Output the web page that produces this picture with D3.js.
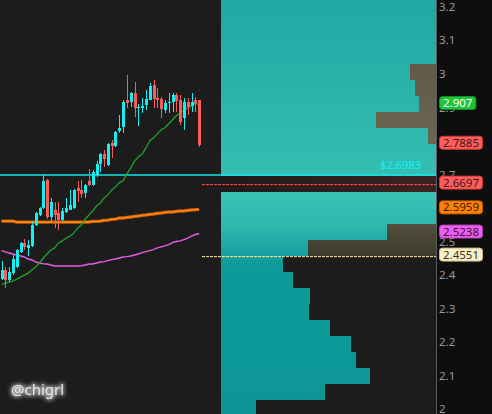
<!DOCTYPE html>
<meta charset="utf-8">
<script src="https://cdn.jsdelivr.net/npm/d3@7"></script>
<style>
  body { margin: 0; background: #1c1c1c; }
  svg { display: block; }
</style>
<div id="chart"></div>
<script>

// candles, oldest first
var candleOpen  = [2.388,2.415,2.385,2.406,2.424,2.469,2.496,2.481,2.487,2.549,
                   2.579,2.600,2.684,2.573,2.594,2.585,2.564,2.588,2.594,2.600,
                   2.660,2.654,2.645,2.681,2.669,2.698,2.731,2.761,2.728,2.794,
                   2.785,2.830,2.842,2.922,2.916,2.943,2.899,2.899,2.907,2.922,
                   2.967,2.928,2.925,2.893,2.913,2.916,2.937,2.922,2.869,2.916,
                   2.905,2.922,2.922];
var candleHigh  = [2.442,2.424,2.424,2.460,2.478,2.499,2.507,2.504,2.558,2.588,
                   2.603,2.698,2.687,2.630,2.618,2.618,2.600,2.630,2.654,2.657,
                   2.681,2.684,2.672,2.716,2.713,2.740,2.764,2.773,2.794,2.803,
                   2.830,2.878,2.922,2.997,2.946,2.976,2.910,2.928,2.952,2.973,
                   2.982,2.958,2.931,2.922,2.943,2.943,2.943,2.937,2.928,2.928,
                   2.943,2.931,2.922];
var candleLow   = [2.385,2.361,2.379,2.400,2.421,2.466,2.475,2.457,2.484,2.546,
                   2.576,2.597,2.567,2.558,2.540,2.534,2.561,2.585,2.594,2.597,
                   2.618,2.630,2.630,2.666,2.666,2.693,2.707,2.722,2.725,2.749,
                   2.782,2.824,2.824,2.899,2.902,2.872,2.845,2.884,2.893,2.922,
                   2.899,2.899,2.869,2.884,2.884,2.887,2.887,2.848,2.833,2.878,
                   2.887,2.887,2.782];
var candleClose = [2.415,2.385,2.409,2.448,2.475,2.496,2.484,2.490,2.549,2.585,
                   2.600,2.681,2.573,2.618,2.579,2.564,2.591,2.600,2.609,2.654,
                   2.651,2.642,2.669,2.669,2.707,2.731,2.761,2.746,2.791,2.785,
                   2.827,2.839,2.916,2.913,2.943,2.899,2.900,2.905,2.925,2.964,
                   2.925,2.922,2.896,2.913,2.916,2.937,2.920,2.857,2.916,2.902,
                   2.916,2.913,2.788];

// moving averages, one value per candle
var maGreen   = [2.372,2.376,2.379,2.382,2.388,2.394,2.400,2.406,2.415,2.424,
                 2.436,2.451,2.463,2.475,2.481,2.496,2.502,2.510,2.516,2.525,
                 2.540,2.549,2.567,2.579,2.591,2.606,2.615,2.630,2.639,2.654,
                 2.663,2.675,2.681,2.702,2.719,2.740,2.752,2.761,2.779,2.800,
                 2.809,2.821,2.833,2.839,2.851,2.863,2.875,2.884,2.890,2.899,
                 2.905,2.913,2.907];
var maOrange  = [2.561,2.561,2.561,2.561,2.558,2.558,2.558,2.558,2.558,2.558,
                 2.558,2.558,2.558,2.558,2.558,2.558,2.558,2.558,2.558,2.558,
                 2.558,2.558,2.558,2.558,2.560,2.560,2.561,2.563,2.564,2.566,
                 2.567,2.570,2.570,2.572,2.573,2.575,2.576,2.578,2.579,2.581,
                 2.582,2.584,2.585,2.587,2.588,2.588,2.590,2.591,2.591,2.593,
                 2.594,2.595,2.596];
var maMagenta = [2.473,2.469,2.466,2.463,2.460,2.457,2.454,2.448,2.445,2.439,
                 2.436,2.434,2.433,2.430,2.427,2.427,2.427,2.427,2.427,2.427,
                 2.427,2.428,2.430,2.433,2.433,2.436,2.439,2.440,2.443,2.446,
                 2.448,2.451,2.454,2.455,2.457,2.460,2.463,2.467,2.470,2.473,
                 2.476,2.481,2.484,2.487,2.491,2.497,2.500,2.502,2.506,2.510,
                 2.516,2.521,2.524];

// volume profile: lower edge of each price bin, volume drawn from left and from right
var binSize = 0.0477;
var binLow  = [3.1723,3.1246,3.0769,3.0292,2.9815,2.9338,2.8862,2.8385,2.7908,2.7431,
               2.6954,2.6477,2.6000,2.5523,2.5046,2.4569,2.4092,2.3615,2.3138,2.2662,
               2.2185,2.1708,2.1231,2.0754,2.0277,1.9800];
var volLeft  = [100,100,100,100,100,100,100,100,100,100,
                100,0,100,100,100,100,28.8,33.5,41.4,40.9,
                50.7,60.5,62.8,69.3,48.4,16.3];
var volRight = [0,0,0,0,12.1,9.8,7.9,27.9,3.7,0,
                0,0,0,0,22.8,59.5,0,0,0,0,
                0,0,0,0,0,0];

var yTicks = [2, 2.1, 2.2, 2.3, 2.4, 2.5, 2.6, 2.7, 2.8, 2.9, 3, 3.1, 3.2];

var lastLine = 2.6983;
var redLine = 2.6697;
var creamLine = 2.4551;
var tagValues = [2.907, 2.7885, 2.6697, 2.5959, 2.5238, 2.4551];
var tagLabels = ["2.907", "2.7885", "2.6697", "2.5959", "2.5238", "2.4551"];

// styles
var tagFill   = ["#1fc43a", "#ff5c5c", "#ff5c5c", "#ff7f00", "#ee5cee", "#f8efc6"];
var tagStroke = ["#0f8f22", "#c83a3a", "#c83a3a", "#c25e00", "#b040b0", "#c8b98a"];
var tagText   = ["#ffffff", "#3a1515", "#3a1515", "#3a2000", "#3a103a", "#333322"];

var W = 492, H = 414, axisX = 436, profX = 221;

var svg = d3.select("#chart").append("svg")
  .attr("width", W).attr("height", H)
  .style("font-family", "'Noto Sans', sans-serif");

var defs = svg.append("defs");

var tealGrad = defs.append("linearGradient").attr("id", "teal")
  .attr("gradientUnits", "userSpaceOnUse").attr("x1", 0).attr("y1", 0).attr("x2", 0).attr("y2", H);
[[0, "#1fa9a4"], [0.4, "#34bcb1"], [0.47, "#3ac2b6"], [0.55, "#2eb7ae"], [0.6, "#1aa5a2"], [0.64, "#0e9a9a"], [1, "#0c9696"]]
  .forEach(function(s) { tealGrad.append("stop").attr("offset", s[0]).attr("stop-color", s[1]); });

var brownGrad = defs.append("linearGradient").attr("id", "brown")
  .attr("gradientUnits", "userSpaceOnUse").attr("x1", 0).attr("y1", 60).attr("x2", 0).attr("y2", 260);
[[0, "#605946"], [0.4, "#6c6651"], [0.8, "#57523f"], [1, "#3a372d"]]
  .forEach(function(s) { brownGrad.append("stop").attr("offset", s[0]).attr("stop-color", s[1]); });

var gapGrad = defs.append("linearGradient").attr("id", "gap")
  .attr("x1", 0).attr("y1", 0).attr("x2", 1).attr("y2", 0);
gapGrad.append("stop").attr("offset", 0).attr("stop-color", "#1e1b1b");
gapGrad.append("stop").attr("offset", 1).attr("stop-color", "#3c2323");

var glow = defs.append("filter").attr("id", "glow").attr("x", "-20%").attr("y", "-50%").attr("width", "140%").attr("height", "200%");
glow.append("feMorphology").attr("in", "SourceAlpha").attr("operator", "dilate").attr("radius", 1).attr("result", "d");
glow.append("feGaussianBlur").attr("in", "d").attr("stdDeviation", 2).attr("result", "b");
glow.append("feFlood").attr("flood-color", "#d8d8d8").attr("flood-opacity", 0.8);
glow.append("feComposite").attr("in2", "b").attr("operator", "in").attr("result", "g");
var gm = glow.append("feMerge");
gm.append("feMergeNode").attr("in", "g");
gm.append("feMergeNode").attr("in", "SourceGraphic");

// background
svg.append("rect").attr("width", W).attr("height", H).attr("fill", "#1c1c1c");

var y = d3.scaleLinear().domain([2, 3.2]).range([409.3, 6.7]);
var x = d3.scaleLinear().domain([0, candleOpen.length - 1]).range([1.5, 199.1]);
var xv = d3.scaleLinear().domain([0, 100]).range([profX, axisX]).clamp(true);

// volume profile
var prof = svg.append("g").attr("shape-rendering", "crispEdges");
binLow.forEach(function(lo, i) {
  var top = Math.round(y(lo + binSize)), bot = Math.round(y(lo));
  if (volLeft[i] > 0) {
    prof.append("rect").attr("x", profX).attr("y", top)
      .attr("width", xv(volLeft[i]) - profX).attr("height", bot - top)
      .attr("fill", "url(#teal)");
  } else {
    prof.append("rect").attr("x", profX).attr("y", top)
      .attr("width", axisX - profX).attr("height", bot - top)
      .attr("fill", "url(#gap)");
  }
  if (volRight[i] > 0) {
    var w = xv(volRight[i]) - profX;
    prof.append("rect").attr("x", axisX - w).attr("y", top)
      .attr("width", w).attr("height", bot - top)
      .attr("fill", "url(#brown)");
  }
});

// price lines
svg.append("line").attr("x1", 0).attr("x2", axisX)
  .attr("y1", y(lastLine)).attr("y2", y(lastLine))
  .attr("stroke", "#12e6e6").attr("stroke-width", 1.6);
svg.append("text").attr("x", 421).attr("y", y(lastLine) - 6)
  .attr("text-anchor", "end").attr("font-size", 11).attr("fill", "#0ff0f0")
  .attr("stroke", "#0ff0f0").attr("stroke-width", 0.2)
  .text("$" + lastLine);
svg.append("line").attr("x1", 202).attr("x2", axisX)
  .attr("y1", y(redLine)).attr("y2", y(redLine))
  .attr("stroke", "#ff5555").attr("stroke-width", 1).attr("stroke-dasharray", "3,1");
svg.append("line").attr("x1", 202).attr("x2", axisX)
  .attr("y1", y(creamLine)).attr("y2", y(creamLine))
  .attr("stroke", "#ffe9a8").attr("stroke-width", 1).attr("stroke-dasharray", "3,1");

// moving averages
var line = d3.line().x(function(d, i) { return x(i); }).y(function(d) { return y(d); });
svg.append("path").datum(maOrange).attr("d", line).attr("fill", "none")
  .attr("stroke", "#c85a00").attr("stroke-width", 3.4);
svg.append("path").datum(maOrange).attr("d", line).attr("fill", "none")
  .attr("stroke", "#ff8614").attr("stroke-width", 1.6);
svg.append("path").datum(maMagenta).attr("d", line).attr("fill", "none")
  .attr("stroke", "#e45fe4").attr("stroke-width", 1.4);
svg.append("path").datum(maGreen).attr("d", line).attr("fill", "none")
  .attr("stroke", "#1fa42a").attr("stroke-width", 1.3);

// candles
var candles = svg.append("g").attr("shape-rendering", "crispEdges");
candleOpen.forEach(function(o, i) {
  var c = candleClose[i];
  var col = c >= o ? "#14f0f0" : "#ff5a5a";
  var cx = Math.round(x(i));
  candles.append("line").attr("x1", cx + 0.5).attr("x2", cx + 0.5)
    .attr("y1", y(candleHigh[i])).attr("y2", y(candleLow[i]))
    .attr("stroke", col).attr("stroke-width", 1);
  var top = y(Math.max(o, c)), bot = y(Math.min(o, c));
  candles.append("rect").attr("x", cx - 1).attr("y", top)
    .attr("width", 3).attr("height", Math.max(1, bot - top))
    .attr("fill", col);
});

// right axis
svg.append("rect").attr("x", axisX).attr("y", 0).attr("width", W - axisX).attr("height", H)
  .attr("fill", "#0e0e0e");
svg.append("line").attr("x1", axisX + 0.5).attr("x2", axisX + 0.5).attr("y1", 0).attr("y2", H)
  .attr("stroke", "#5a5a5a");

var axis = svg.append("g").attr("transform", "translate(" + (axisX - 1) + ",0)")
  .call(d3.axisRight(y).tickValues(yTicks).tickSize(0).tickPadding(4).tickFormat(d3.format("")));
axis.select(".domain").remove();
axis.selectAll("text").attr("fill", "#9a9a9a").attr("font-size", 11.5)
  .style("font-family", "'Noto Sans', sans-serif");

// value tags
tagValues.forEach(function(v, i) {
  var cy = y(v) - 2;
  var g = svg.append("g");
  var t = g.append("text").attr("x", 443).attr("y", cy + 4)
    .attr("font-size", 11.5).attr("fill", tagText[i]).text(tagLabels[i]);
  var w = t.node().getComputedTextLength();
  g.insert("rect", "text").attr("x", 439.5).attr("y", cy - 6.5)
    .attr("width", w + 7).attr("height", 13).attr("rx", 3)
    .attr("fill", tagFill[i]).attr("stroke", tagStroke[i]).attr("stroke-width", 1);
});

// watermark
svg.append("text").attr("x", 11).attr("y", 395)
  .attr("font-size", 15).attr("fill", "#e8e8e8").attr("filter", "url(#glow)")
  .text("@chigrl");

</script>
